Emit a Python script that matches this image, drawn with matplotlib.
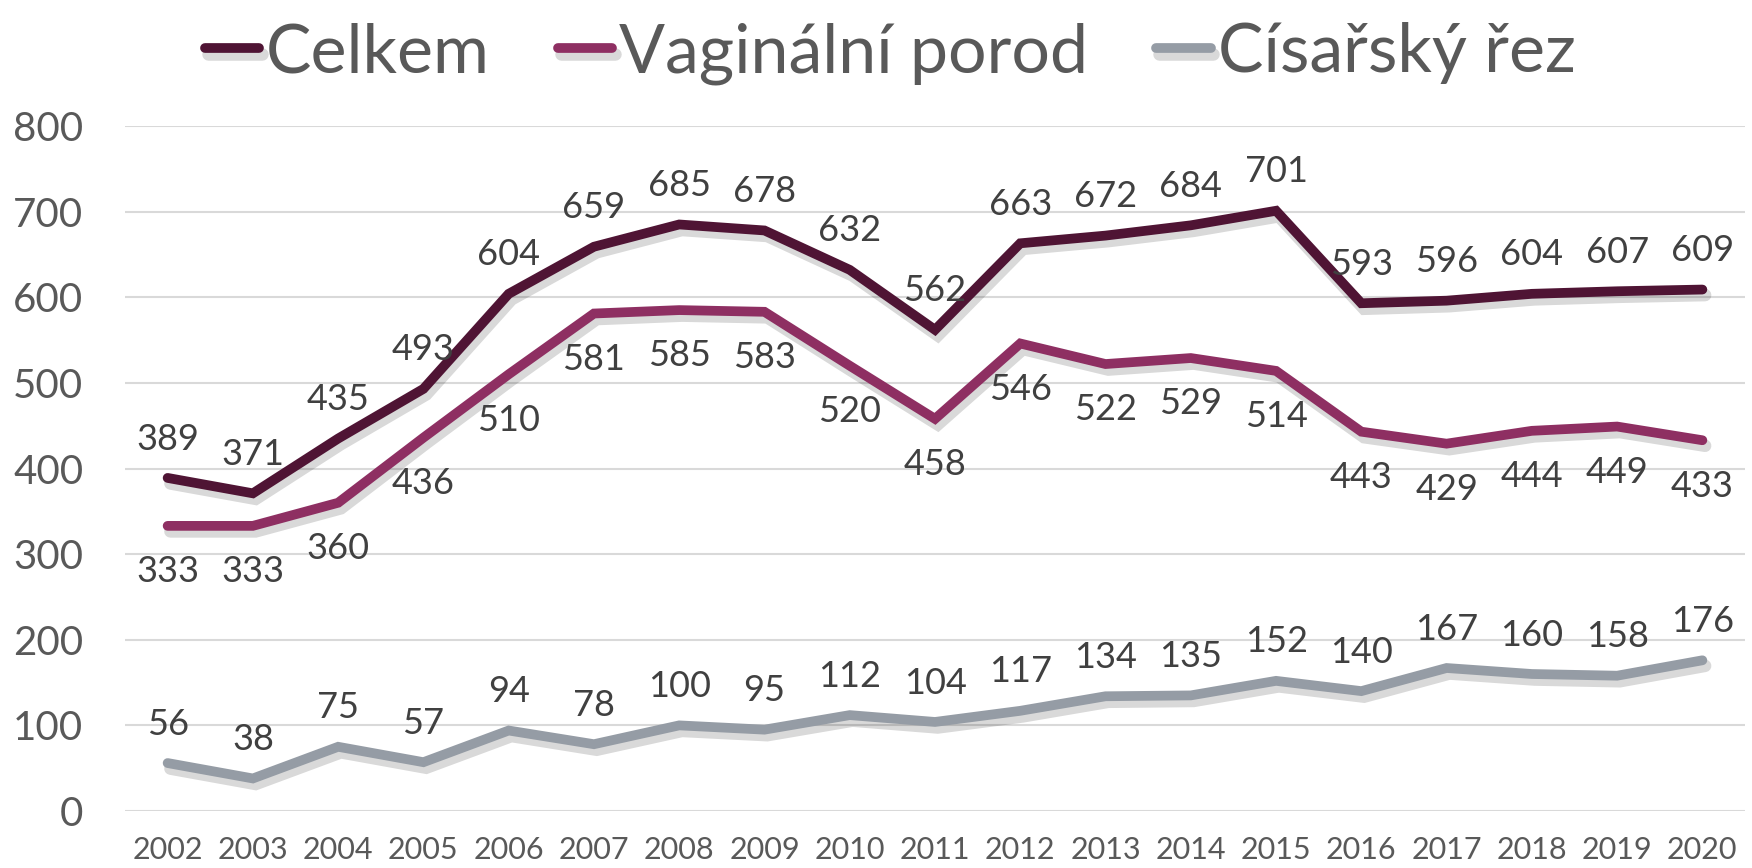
import matplotlib
matplotlib.use('Agg')
import matplotlib.pyplot as plt
import matplotlib.patheffects as pe

plt.rcParams['font.family'] = ['Lato', 'DejaVu Sans']

years = [str(y) for y in range(2002, 2021)]
celkem = [389, 371, 435, 493, 604, 659, 685, 678, 632, 562, 663, 672, 684, 701, 593, 596, 604, 607, 609]
vaginalni = [333, 333, 360, 436, 510, 581, 585, 583, 520, 458, 546, 522, 529, 514, 443, 429, 444, 449, 433]
cisarsky = [56, 38, 75, 57, 94, 78, 100, 95, 112, 104, 117, 134, 135, 152, 140, 167, 160, 158, 176]

names = ['Celkem', 'Vaginální porod', 'Císařský řez']
colors = ['#4F1434', '#8E2F62', '#959CA5']
series = [celkem, vaginalni, cisarsky]
label_off = [28, -33, 28]   # points, + above, - below

txt = '#595959'

fig = plt.figure(figsize=(17.52, 8.68), dpi=100)
ax = fig.add_axes([125 / 1752, 57 / 868, 1620 / 1752, 685 / 868])

x = list(range(len(years)))
shadow = [pe.SimpleLineShadow(offset=(2, -4), shadow_color='black', alpha=0.15, linewidth=9),
          pe.Normal()]
for vals, name, col, off in zip(series, names, colors, label_off):
    ax.plot(x, vals, color=col, lw=7, solid_capstyle='round', solid_joinstyle='miter',
            label=name, path_effects=shadow, zorder=3)
    for xi, v in zip(x, vals):
        ax.annotate(str(v), (xi, v), xytext=(0, off), textcoords='offset points',
                    ha='center', va='center', fontsize=26, color='#404040', zorder=4)

ax.set_xlim(-0.5, len(years) - 0.5)
ax.set_ylim(0, 800)
ax.set_yticks(range(0, 801, 100))
ax.set_xticks(x)
ax.set_xticklabels(years)
ax.grid(axis='y', color='#D9D9D9', lw=1.5, zorder=0)
ax.set_axisbelow(True)
for s in ax.spines.values():
    s.set_visible(False)
ax.tick_params(axis='y', length=0, pad=30, labelsize=29, labelcolor=txt)
ax.tick_params(axis='x', length=0, pad=18, labelsize=22, labelcolor=txt)

fig.legend(loc='upper center', bbox_to_anchor=(0.508, 1.045), ncol=3, frameon=False,
           prop={'size': 49}, labelcolor=txt,
           handlelength=0.8, handletextpad=0.1, columnspacing=1.0)

fig.savefig('out.png', dpi=100)
